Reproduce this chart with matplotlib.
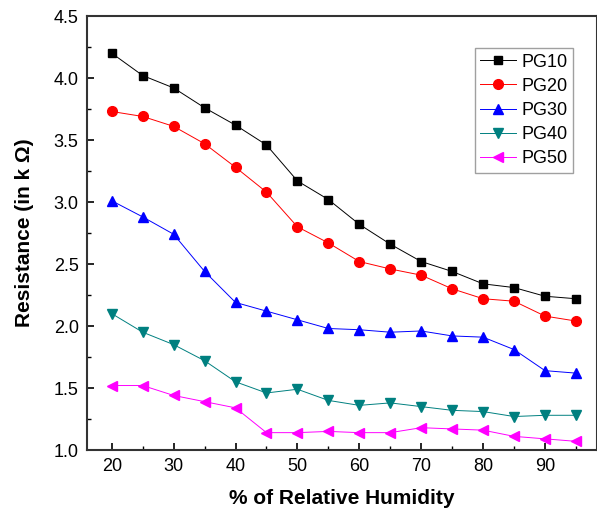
import numpy as np
import matplotlib
matplotlib.use("Agg")
import matplotlib.pyplot as plt
from matplotlib.ticker import MultipleLocator

plt.rcParams["font.family"] = ["Liberation Sans", "DejaVu Sans"]

humidity = [20, 25, 30, 35, 40, 45, 50, 55, 60, 65, 70, 75, 80, 85, 90, 95]

pg10 = [4.20, 4.02, 3.92, 3.76, 3.62, 3.46, 3.17, 3.02, 2.82, 2.66,
        2.52, 2.44, 2.34, 2.31, 2.24, 2.22]
pg20 = [3.73, 3.69, 3.61, 3.47, 3.28, 3.08, 2.80, 2.67, 2.52, 2.46,
        2.41, 2.30, 2.22, 2.20, 2.08, 2.04]
pg30 = [3.01, 2.88, 2.74, 2.44, 2.19, 2.12, 2.05, 1.98, 1.97, 1.95,
        1.96, 1.92, 1.91, 1.81, 1.64, 1.62]
pg40 = [2.10, 1.95, 1.85, 1.72, 1.55, 1.46, 1.49, 1.40, 1.36, 1.38,
        1.35, 1.32, 1.31, 1.27, 1.28, 1.28]
pg50 = [1.52, 1.52, 1.44, 1.39, 1.34, 1.14, 1.14, 1.15, 1.14, 1.14,
        1.18, 1.17, 1.16, 1.11, 1.09, 1.07]

series = [
    ("PG10", pg10, "black", "s", 6),
    ("PG20", pg20, "red", "o", 7),
    ("PG30", pg30, "blue", "^", 7.5),
    ("PG40", pg40, "#008080", "v", 7.5),
    ("PG50", pg50, "magenta", "<", 7.5),
]

fig = plt.figure(figsize=(5.97, 5.20), dpi=100)
ax = fig.add_axes([0.1457, 0.1346, 0.8543, 0.8346])

for name, vals, col, mk, ms in series:
    ax.plot(humidity, vals, color=col, lw=0.7, marker=mk, markersize=ms,
            markeredgecolor=col, markerfacecolor=col, label=name)

ax.set_xlim(16, 98.4)
ax.set_ylim(1.0, 4.5)
ax.xaxis.set_major_locator(MultipleLocator(10))
ax.xaxis.set_minor_locator(MultipleLocator(5))
ax.yaxis.set_major_locator(MultipleLocator(0.5))
ax.yaxis.set_minor_locator(MultipleLocator(0.25))
ax.yaxis.set_major_formatter(matplotlib.ticker.FormatStrFormatter("%.1f"))
ax.tick_params(which="major", direction="in", length=5, width=1.2,
               labelsize=13, pad=6, top=False, right=False)
ax.tick_params(which="minor", direction="in", length=3, width=1.0,
               top=False, right=False)
for sp in ax.spines.values():
    sp.set_linewidth(1.5)
    sp.set_color("#333333")

ax.set_xlabel("% of Relative Humidity", fontsize=15, fontweight="bold",
              labelpad=10)
ax.set_ylabel("Resistance (in k Ω)", fontsize=15, fontweight="bold",
              labelpad=14)

leg = ax.legend(loc="upper right", bbox_to_anchor=(0.953, 0.926),
                fontsize=13, frameon=True, fancybox=False,
                handlelength=2.0, handletextpad=0.3, labelspacing=0.4,
                borderpad=0.3, borderaxespad=0)
leg.get_frame().set_edgecolor("#888888")
leg.get_frame().set_linewidth(1.0)

fig.savefig("out.png", dpi=100)
